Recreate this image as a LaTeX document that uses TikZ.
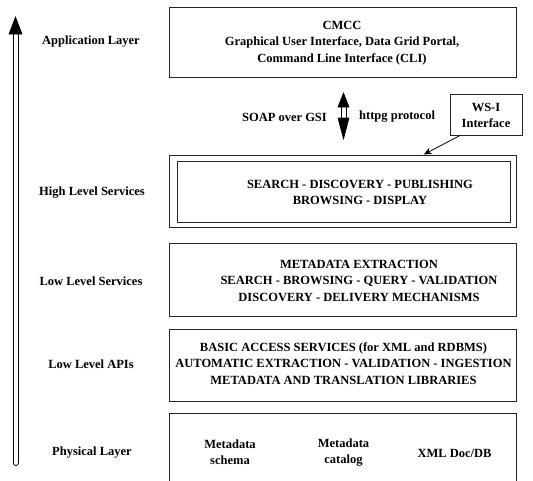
\documentclass[tikz,border=0pt]{standalone}
\usepackage{fontspec}
\setmainfont{Liberation Serif}[BoldFont={Liberation Serif Bold}]
\newfontfamily\labelfont{Liberation Serif Bold}
\usetikzlibrary{calc,arrows.meta}
\begin{document}
\begin{tikzpicture}[x=1pt,y=-1pt,
  every node/.style={font=\labelfont\fontsize{12.5}{16.5}\selectfont, inner sep=0pt},
  box/.style={draw=black!85, line width=1pt, minimum width=347.5pt},
  txt/.style={align=center},
  lbl/.style={align=center},
  shaft/.style={draw=black, line width=1pt, double=white, double distance=4pt},
  head/.style={fill=black, draw=black, line width=0.6pt, line join=miter}]
\useasboundingbox (0,0) rectangle (533,480);

% layer boxes
\node[box, minimum height=70pt] (app) at (342.75,42) {};
\node[box, minimum height=72.5pt] (hiout) at (342.75,191.25) {};
\node[box, minimum width=333pt, minimum height=61pt] (hiin) at (343.5,191.5) {};
\node[box, minimum height=72.5pt] (lowsvc) at (342.75,279.75) {};
\node[box, minimum height=72pt] (lowapi) at (342.75,365) {};
\node[box, minimum height=90pt] (phys) at (342.75,458) {};
\node[box, minimum width=72pt, minimum height=41pt] (wsi) at (486,114.5) {};

% box contents
\node[txt] (apptxt) at (342,43) {CMCC\\Graphical User Interface, Data Grid Portal,\\Command Line Interface (CLI)};
\node[txt] (hitxt) at (360,192.5) {SEARCH - DISCOVERY - PUBLISHING\\BROWSING - DISPLAY};
\node[txt] (lowsvctxt) at (359,280.5) {METADATA EXTRACTION\\SEARCH - BROWSING - QUERY - VALIDATION\\DISCOVERY - DELIVERY MECHANISMS};
\node[txt] (lowapitxt) at (343.5,363.5) {BASIC ACCESS SERVICES (for XML and RDBMS)\\AUTOMATIC EXTRACTION - VALIDATION - INGESTION\\METADATA AND TRANSLATION LIBRARIES};
\node[txt] (schema) at (230,452) {Metadata\\schema};
\node[txt] (catalog) at (343.5,452.5) {Metadata\\catalog};
\node[txt] (xmldb) at (454.6,453.5) {XML Doc/DB};
\node[txt] (wsitxt) at (486,115.5) {WS-I\\Interface};

% layer names
\node[lbl] (l1) at (91,42) {Application Layer};
\node[lbl] (l2) at (92,193) {High Level Services};
\node[lbl] (l3) at (91,281) {Low Level Services};
\node[lbl] (l4) at (91,364) {Low Level APIs};
\node[lbl] (l5) at (92,453) {Physical Layer};

% protocol labels
\node[anchor=east] (soap) at (327,117) {SOAP over GSI};
\node[anchor=west] (httpg) at (359,117) {httpg protocol};

% vertical layer arrow
\coordinate (latip) at (15.5,17);
\coordinate (labase) at (15.5,34);
\coordinate (laend) at (15.5,463);
\draw[shaft, line cap=round] (laend) -- ($(labase)+(0,1)$);
\draw[head] (latip) -- ($(labase)+(-6.5,0)$) -- ($(labase)+(6.5,0)$) -- cycle;

% double-headed protocol arrow between application and services
\coordinate (ptop) at (343.5,93);
\coordinate (pbot) at (343.5,139);
\draw[shaft] ($(ptop)+(0,12)$) -- ($(pbot)+(0,-12)$);
\draw[head] (ptop) -- ($(ptop)+(-5.5,14)$) -- ($(ptop)+(5.5,14)$) -- cycle;
\draw[head] (pbot) -- ($(pbot)+(-5.5,-21)$) -- ($(pbot)+(5.5,-21)$) -- cycle;

% WS-I interface pointer
\draw[line width=0.8pt, -{Stealth[length=8pt,width=7pt]}] ($(wsi.south)+(-26,0)$) -- ($(hiout.north)+(81,0)$);
\end{tikzpicture}
\end{document}
